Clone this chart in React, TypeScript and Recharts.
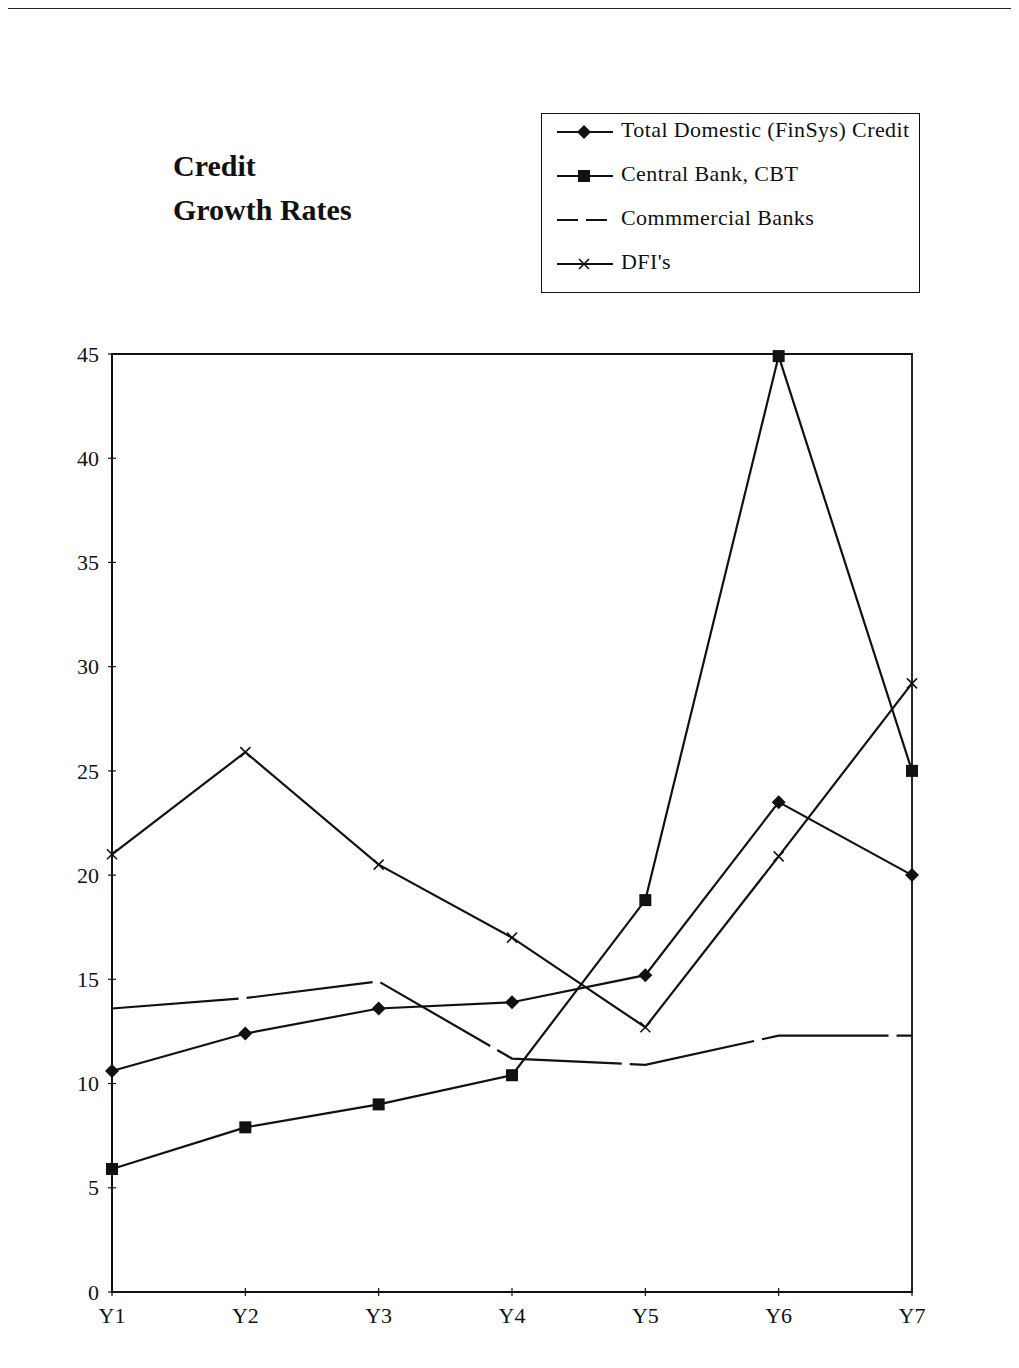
import React from "react";
import {
  LineChart,
  Line,
  XAxis,
  YAxis,
  ReferenceArea,
} from "recharts";

const years = ["Y1", "Y2", "Y3", "Y4", "Y5", "Y6", "Y7"];
const totalDomestic = [10.6, 12.4, 13.6, 13.9, 15.2, 23.5, 20.0];
const centralBank = [5.9, 7.9, 9.0, 10.4, 18.8, 44.9, 25.0];
const commercialBanks = [13.6, 14.1, 14.9, 11.2, 10.9, 12.3, 12.3];
const dfis = [21.0, 25.9, 20.5, 17.0, 12.7, 20.9, 29.2];
const yTicks = [0, 5, 10, 15, 20, 25, 30, 35, 40, 45];

const data = years.map((year, i) => ({
  year,
  total: totalDomestic[i],
  cbt: centralBank[i],
  commercial: commercialBanks[i],
  dfi: dfis[i],
}));

const FONT = "'Liberation Serif', 'Times New Roman', serif";
const INK = "#111";

type Marker = "diamond" | "square" | "cross" | "none";

const series: { key: string; name: string; marker: Marker; dash?: string }[] = [
  { key: "total", name: "Total Domestic (FinSys) Credit", marker: "diamond" },
  { key: "cbt", name: "Central Bank, CBT", marker: "square" },
  { key: "commercial", name: "Commmercial Banks", marker: "none", dash: "127 8" },
  { key: "dfi", name: "DFI's", marker: "cross" },
];

const drawMarker = (marker: Marker, cx: number, cy: number, key?: string) => {
  if (marker === "diamond") {
    return (
      <path
        key={key}
        d={`M${cx},${cy - 7} L${cx + 7},${cy} L${cx},${cy + 7} L${cx - 7},${cy} Z`}
        fill={INK}
      />
    );
  }
  if (marker === "square") {
    return <rect key={key} x={cx - 6} y={cy - 6} width={12} height={12} fill={INK} />;
  }
  if (marker === "cross") {
    return (
      <path
        key={key}
        d={`M${cx - 5},${cy - 5} L${cx + 5},${cy + 5} M${cx - 5},${cy + 5} L${cx + 5},${cy - 5}`}
        stroke={INK}
        strokeWidth={1.6}
      />
    );
  }
  return <g key={key} />;
};

const dotFor = (marker: Marker) => (p: any) =>
  drawMarker(marker, p.cx, p.cy, `${marker}-${p.index}`);

const YTick = (props: any) => {
  const { x, y, payload } = props;
  return (
    <g>
      <line x1={x - 4} x2={x + 4} y1={y} y2={y} stroke={INK} strokeWidth={1.2} />
      <text x={x - 13} y={y} dy="0.35em" textAnchor="end" fontFamily={FONT} fontSize={22} fill={INK}>
        {payload.value}
      </text>
    </g>
  );
};

const XTick = (props: any) => {
  const { x, y, payload } = props;
  return (
    <g>
      <line x1={x} x2={x} y1={y - 4} y2={y + 4} stroke={INK} strokeWidth={1.2} />
      <text x={x} y={y + 31} textAnchor="middle" fontFamily={FONT} fontSize={22} fill={INK}>
        {payload.value}
      </text>
    </g>
  );
};

const LegendBox = () => (
  <div
    style={{
      position: "absolute",
      left: 533,
      top: 105,
      width: 379,
      height: 180,
      boxSizing: "border-box",
      border: `1.5px solid ${INK}`,
      paddingTop: 5,
      fontFamily: FONT,
      fontSize: 22,
      letterSpacing: 0.4,
      color: INK,
    }}
  >
    {series.map((s) => (
      <div
        key={s.key}
        style={{ height: 22, marginBottom: 22, display: "flex", alignItems: "center", whiteSpace: "nowrap" }}
      >
        <svg width={56} height={20} style={{ marginLeft: 15, marginRight: 8 }}>
          <line
            x1={0}
            x2={56}
            y1={12}
            y2={12}
            stroke={INK}
            strokeWidth={2.2}
            strokeDasharray={s.dash ? "21 8" : undefined}
          />
          {drawMarker(s.marker, 27, 12)}
        </svg>
        <span>{s.name}</span>
      </div>
    ))}
  </div>
);

export default function App() {
  return (
    <div style={{ position: "relative", width: 1003, height: 1352 }}>
      {/* scanned page edge */}
      <div
        style={{
          position: "absolute",
          left: -3,
          top: -1,
          width: 1014,
          height: 1360,
          borderTop: "2px solid #222",
          borderLeft: "1px dashed #aaa",
          pointerEvents: "none",
        }}
      />
      <div
        style={{
          position: "absolute",
          left: 165,
          top: 136,
          fontFamily: FONT,
          fontWeight: 700,
          fontSize: 30,
          lineHeight: "44px",
          color: INK,
        }}
      >
        <div>Credit</div>
        <div>Growth Rates</div>
      </div>
      <LegendBox />
      <LineChart
        width={1003}
        height={1352}
        data={data}
        margin={{ top: 346, right: 99, left: 44, bottom: 28 }}
      >
        <XAxis
          dataKey="year"
          height={40}
          tickSize={0}
          tickMargin={0}
          tickLine={false}
          axisLine={{ stroke: INK, strokeWidth: 2 }}
          tick={XTick}
          interval={0}
        />
        <YAxis
          width={60}
          domain={[0, 45]}
          ticks={yTicks}
          tickSize={0}
          tickMargin={0}
          tickLine={false}
          axisLine={{ stroke: INK, strokeWidth: 2 }}
          tick={YTick}
          interval={0}
        />
        <ReferenceArea x1="Y1" x2="Y7" y1={0} y2={45} fill="none" stroke={INK} strokeWidth={1.8} />
        {series.map((s) => (
          <Line
            key={s.key}
            type="linear"
            dataKey={s.key}
            name={s.name}
            stroke={INK}
            strokeWidth={2.2}
            strokeDasharray={s.dash}
            dot={s.marker === "none" ? false : dotFor(s.marker)}
            activeDot={false}
            isAnimationActive={false}
          />
        ))}
      </LineChart>
    </div>
  );
}
